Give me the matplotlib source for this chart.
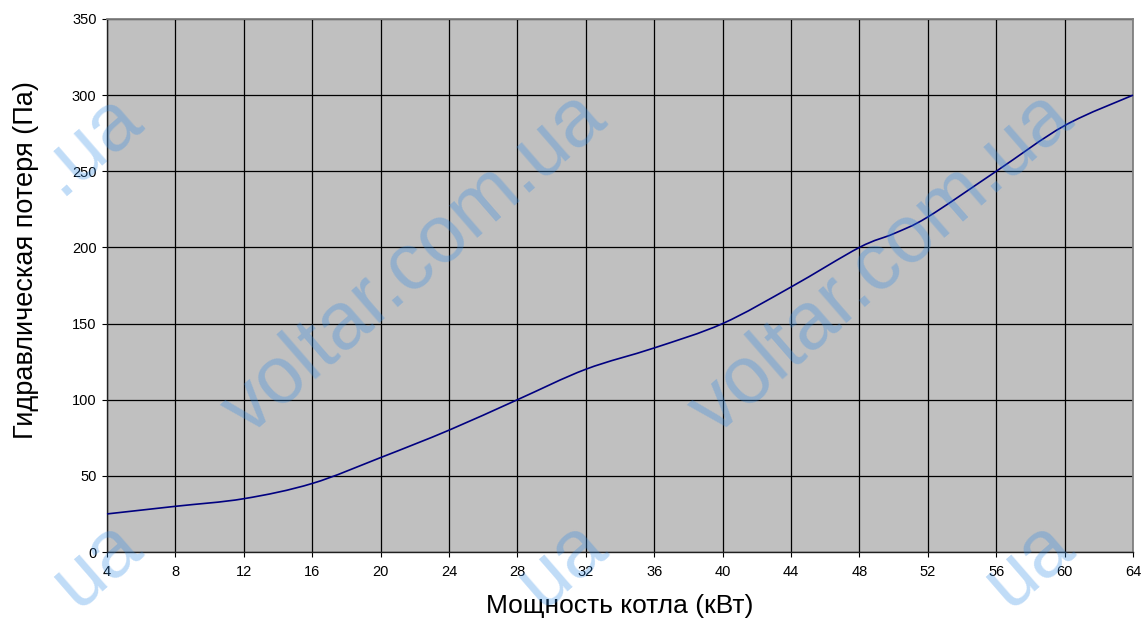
import numpy as np
import matplotlib
matplotlib.use('Agg')
import matplotlib.pyplot as plt
from matplotlib.path import Path
from matplotlib.patches import PathPatch
from matplotlib.transforms import IdentityTransform

# Data
power_kw = [4, 8, 12, 16, 20, 24, 28, 32, 36, 40, 44, 48, 50, 52, 56, 60, 64]
loss_pa = [25, 30, 35, 45, 62, 80, 100, 120, 134, 150, 174, 200, 209, 220, 250, 280, 300]
x_ticks = list(range(4, 65, 4))
y_ticks = list(range(0, 351, 50))
x_label = 'Мощность котла (кВт)'
y_label = 'Гидравлическая потеря (Па)'
watermark = 'voltar.com.ua'

plt.rcParams['font.family'] = ['Liberation Sans', 'DejaVu Sans']

W, H = 1141, 621
fig = plt.figure(figsize=(W / 100, H / 100), dpi=100)
L, R, T, B = 107, 1133, 19, 552
ax = fig.add_axes([L / W, 1 - B / H, (R - L) / W, (B - T) / H])
ax.set_facecolor('#C0C0C0')
ax.set_xlim(x_ticks[0], x_ticks[-1])
ax.set_ylim(y_ticks[0], y_ticks[-1])
ax.set_xticks(x_ticks)
ax.set_yticks(y_ticks)
ax.grid(True, color='black', linewidth=0.9)
ax.set_axisbelow(True)
ax.tick_params(direction='out', length=3.5, width=0.8, labelsize=10.5, colors='black')
ax.tick_params(axis='x', pad=6)
ax.tick_params(axis='y', pad=4)
for side in ['top', 'right']:
    ax.spines[side].set_color('#808080')
    ax.spines[side].set_linewidth(1.3)
for side in ['left', 'bottom']:
    ax.spines[side].set_color('#202020')
    ax.spines[side].set_linewidth(1.0)

# Smoothed line (Excel-style Bezier through the data points)
pts = np.column_stack([power_kw, loss_pa]).astype(float)
n = len(pts)
verts = [pts[0]]
codes = [Path.MOVETO]
for i in range(n - 1):
    p_prev = pts[i - 1] if i > 0 else pts[i]
    p_next = pts[i + 2] if i + 2 < n else pts[i + 1]
    c1 = pts[i] + (pts[i + 1] - p_prev) / 6.0
    c2 = pts[i + 1] - (p_next - pts[i]) / 6.0
    verts += [c1, c2, pts[i + 1]]
    codes += [Path.CURVE4] * 3
ax.add_patch(PathPatch(Path(verts, codes), facecolor='none', edgecolor='#000080',
                       linewidth=1.2, zorder=3, clip_on=False))

fig.text(620 / W, 1 - 613 / H, x_label, fontsize=19, ha='center', va='baseline')
fig.text(26 / W, 1 - 260 / H, y_label, fontsize=19.5, ha='center', va='center',
         rotation=90)

# Watermarks (baseline centres in pixels from top-left)
wm_size = 58
wm_angle = 41
wm_kw = dict(fontsize=wm_size, color='#2e8ae6', alpha=0.3, rotation=wm_angle,
             rotation_mode='anchor', va='baseline', zorder=10, transform=IdentityTransform())
renderer = fig.canvas.get_renderer()
tmp = fig.text(0, 0, watermark, fontsize=wm_size)
wfull = tmp.get_window_extent(renderer).width
tmp.remove()
ca, sa = np.cos(np.radians(wm_angle)), np.sin(np.radians(wm_angle))
full_marks = [(429, 280), (896, 280)]
part_marks = [(-36, 280, '.ua'), (-36, 707, 'ua'), (429, 707, 'ua'), (896, 707, 'ua')]
for bx, by in full_marks:
    fig.text(bx, H - by, watermark, ha='center', **wm_kw)
for bx, by, sub in part_marks:
    ex = bx + wfull / 2 * ca
    ey = (H - by) + wfull / 2 * sa
    fig.text(ex, ey, sub, ha='right', **wm_kw)

fig.savefig('out.png', dpi=100)
